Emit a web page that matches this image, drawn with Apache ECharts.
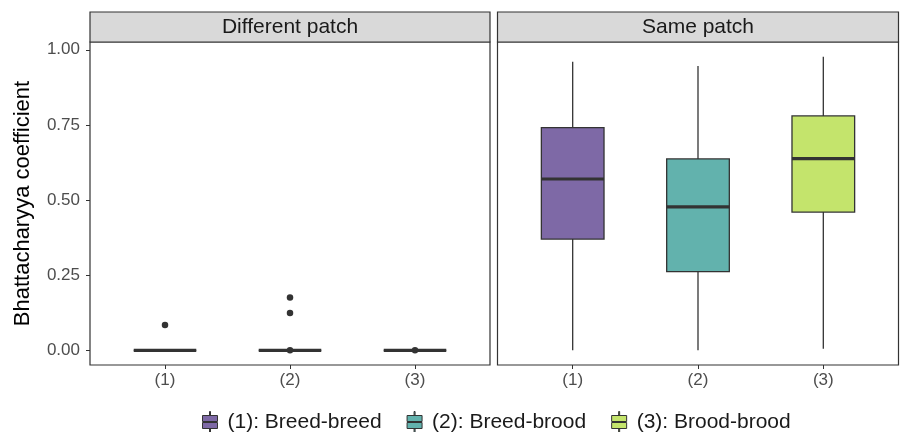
<!DOCTYPE html>
<html>
<head>
<meta charset="utf-8">
<script src="https://cdn.jsdelivr.net/npm/echarts@6/dist/echarts.min.js"></script>
<style>html,body{margin:0;padding:0;background:#fff;}#c{width:901px;height:432px;}</style>
</head>
<body>
<div id="c"></div>
<script>
// ---- data ----
const categories = ['(1)', '(2)', '(3)'];
const groupNames = ['(1): Breed-breed', '(2): Breed-brood', '(3): Brood-brood'];
const panelTitles = ['Different patch', 'Same patch'];
const yTicks = [0, 0.25, 0.5, 0.75, 1];
// [min, Q1, median, Q3, max]
const diffStats = [
  [0, 0, 0, 0, 0],
  [0, 0, 0, 0, 0],
  [0, 0, 0, 0, 0]
];
const sameStats = [
  [0, 0.37, 0.57, 0.741, 0.96],
  [0, 0.262, 0.477, 0.637, 0.946],
  [0.005, 0.46, 0.638, 0.78, 0.977]
];
// [category index, value]
const diffOutliers = [[0, 0.084], [1, 0.176], [1, 0.124], [1, 0], [2, 0]];
const sameOutliers = [];

// ---- styling / layout ----
const colors = ['#7E69A6', '#62B2AD', '#C4E46C'];
const dark = '#333333';
const panels = [{x: 90, w: 400}, {x: 497.5, w: 401}];
const pTop = 42, pBottom = 365, stripTop = 12;
const yMin = -0.049, yMax = 1.026;

const chart = echarts.init(document.getElementById('c'), null, {renderer: 'canvas'});

function renderBox(params, api) {
  const x = api.value(0);
  const pMin = api.coord([x, api.value(1)]);
  const pQ1 = api.coord([x, api.value(2)]);
  const pMed = api.coord([x, api.value(3)]);
  const pQ3 = api.coord([x, api.value(4)]);
  const pMax = api.coord([x, api.value(5)]);
  const bw = api.size([1, 0])[0] * 0.5;
  const cx = pMed[0];
  const fill = api.visual('color');
  return {
    type: 'group',
    children: [
      {type: 'line', shape: {x1: cx, y1: pMax[1], x2: cx, y2: pQ3[1]}, style: {stroke: dark, lineWidth: 1.3}},
      {type: 'line', shape: {x1: cx, y1: pQ1[1], x2: cx, y2: pMin[1]}, style: {stroke: dark, lineWidth: 1.3}},
      {type: 'rect', shape: {x: cx - bw / 2, y: pQ3[1], width: bw, height: pQ1[1] - pQ3[1]},
        style: {fill: fill, stroke: dark, lineWidth: 1.3}},
      {type: 'line', shape: {x1: cx - bw / 2, y1: pMed[1], x2: cx + bw / 2, y2: pMed[1]},
        style: {stroke: dark, lineWidth: 3.2}}
    ]
  };
}

const grids = panels.map(p => {
  const inset = p.w * 0.1 / 3.2;
  return {left: p.x + inset, width: p.w - 2 * inset, top: pTop, height: pBottom - pTop, containLabel: false};
});

const xAxes = panels.map((p, i) => ({
  type: 'category', gridIndex: i, data: categories, position: 'bottom',
  axisLine: {show: false, onZero: false},
  axisTick: {show: true, alignWithLabel: true, length: 4, lineStyle: {color: dark}},
  axisLabel: {color: '#4D4D4D', fontSize: 17, margin: 7, fontFamily: 'Liberation Sans'},
  splitLine: {show: false}
}));

const yAxes = panels.map((p, i) => ({
  type: 'value', gridIndex: i, min: yMin, max: yMax,
  offset: i === 0 ? p.w * 0.1 / 3.2 : 0,
  name: i === 0 ? 'Bhattacharyya coefficient' : '',
  nameLocation: 'middle', nameGap: 56, nameRotate: 90,
  nameTextStyle: {color: '#000', fontSize: 22, fontFamily: 'Liberation Sans'},
  axisLine: {show: false, onZero: false},
  axisTick: {show: i === 0, length: 4, lineStyle: {color: dark}, customValues: yTicks},
  axisLabel: {show: i === 0, color: '#4D4D4D', fontSize: 17, margin: 10, fontFamily: 'Liberation Sans',
    customValues: yTicks, formatter: v => Number(v).toFixed(2)},
  splitLine: {show: false}
}));

const series = [];
[diffStats, sameStats].forEach((stats, gi) => {
  stats.forEach((s, ci) => {
    series.push({
      type: 'custom', name: groupNames[ci], xAxisIndex: gi, yAxisIndex: gi,
      renderItem: renderBox,
      itemStyle: {color: colors[ci], borderColor: dark, borderWidth: 1},
      encode: {x: 0, y: [1, 2, 3, 4, 5]},
      data: [[ci].concat(s)],
      z: 3
    });
  });
});
[diffOutliers, sameOutliers].forEach((pts, gi) => {
  series.push({
    type: 'scatter', xAxisIndex: gi, yAxisIndex: gi, data: pts,
    symbolSize: 6.5, itemStyle: {color: dark, opacity: 1}, z: 5, silent: true
  });
});

const graphics = [];
panels.forEach((p, i) => {
  graphics.push({type: 'rect', shape: {x: p.x, y: pTop, width: p.w, height: pBottom - pTop},
    style: {fill: 'none', stroke: dark, lineWidth: 1.2}, z: 10, silent: true});
  graphics.push({type: 'rect', shape: {x: p.x, y: stripTop, width: p.w, height: pTop - stripTop},
    style: {fill: '#D9D9D9', stroke: dark, lineWidth: 1.2}, z: 10, silent: true});
  graphics.push({type: 'text', x: p.x + p.w / 2, y: (stripTop + pTop) / 2,
    style: {text: panelTitles[i], fill: '#1A1A1A', fontSize: 21, fontFamily: 'Liberation Sans',
      align: 'center', verticalAlign: 'middle'}, z: 11, silent: true});
});

const legendIcon = 'path://M7,0h1v4h-1z M0,4h15v6h-15z M0,11h15v6h-15z M7,17h1v4h-1z';

chart.setOption({
  animation: false,
  backgroundColor: '#fff',
  grid: grids,
  xAxis: xAxes,
  yAxis: yAxes,
  series: series,
  graphic: graphics,
  legend: {
    data: groupNames.map(n => ({name: n, icon: legendIcon})),
    left: 197, top: 406, orient: 'horizontal',
    itemWidth: 15, itemHeight: 22, itemGap: 25,
    itemStyle: {borderColor: dark, borderWidth: 1},
    textStyle: {color: '#1A1A1A', fontSize: 21, fontFamily: 'Liberation Sans', padding: [0, 0, 0, 5]},
    selectedMode: false
  }
});
</script>
</body>
</html>
